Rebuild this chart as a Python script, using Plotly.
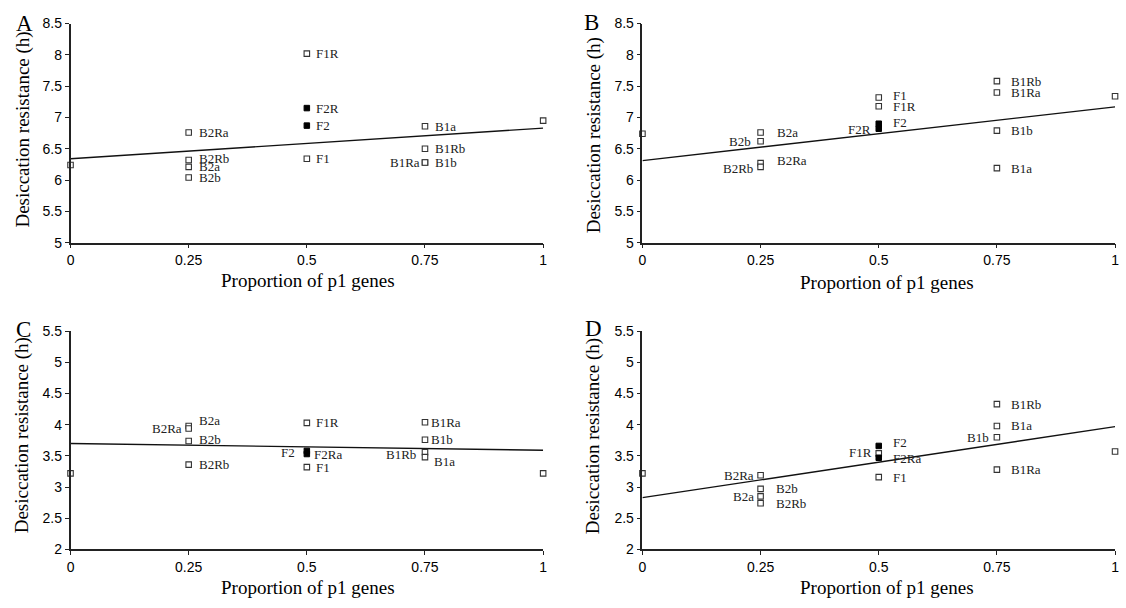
import plotly.graph_objects as go

# ---------------- data ----------------
prop = [0, 0.25, 0.25, 0.25, 0.25, 0.5, 0.5, 0.5, 0.5, 0.75, 0.75, 0.75, 0.75, 1]

lab_A = ["", "B2Ra", "B2Rb", "B2a", "B2b", "F1R", "F2R", "F2", "F1", "B1a", "B1Rb", "B1Ra", "B1b", ""]
res_A = [6.24, 6.76, 6.32, 6.21, 6.04, 8.02, 7.15, 6.87, 6.34, 6.86, 6.50, 6.28, 6.28, 6.95]
fit_A = [6.34, 0.49]   # intercept, slope

lab_B = ["", "B2a", "B2b", "B2Ra", "B2Rb", "F1", "F1R", "F2", "F2R", "B1Rb", "B1Ra", "B1b", "B1a", ""]
res_B = [6.74, 6.76, 6.62, 6.27, 6.21, 7.32, 7.18, 6.90, 6.82, 7.58, 7.40, 6.79, 6.19, 7.34]
fit_B = [6.31, 0.86]

lab_C = ["", "B2a", "B2Ra", "B2b", "B2Rb", "F1R", "F2", "F2Ra", "F1", "B1Ra", "B1b", "B1Rb", "B1a", ""]
res_C = [3.22, 3.98, 3.94, 3.74, 3.36, 4.03, 3.58, 3.53, 3.32, 4.04, 3.76, 3.56, 3.48, 3.22]
fit_C = [3.70, -0.11]

lab_D = ["", "B2Ra", "B2b", "B2a", "B2Rb", "F2", "F1R", "F2Ra", "F1", "B1Rb", "B1a", "B1b", "B1Ra", ""]
res_D = [3.22, 3.19, 2.97, 2.85, 2.74, 3.66, 3.54, 3.47, 3.16, 4.33, 3.98, 3.80, 3.28, 3.57]
fit_D = [2.83, 1.14]

panel_letters = ["A", "B", "C", "D"]
x_ticks = [0, 0.25, 0.5, 0.75, 1]
x_ticktext = ["0", "0.25", "0.5", "0.75", "1"]
y_range_top = [5, 8.5]
y_range_bottom = [2, 5.5]
x_title = "Proportion of p1 genes"
y_title = "Desiccation resistance (h)"

# ---------------- style / layout ----------------
W, H = 1126, 608
SERIF = "Liberation Serif, Times New Roman, serif"
SANS = "Liberation Sans, Arial, sans-serif"
AX = "#222"

# label placement: label -> (side, xshift px, yshift px)
label_style = {
    "A": {"B2Ra": ("r", 8, 0), "B2Rb": ("r", 8, 2), "B2a": ("r", 8, 0), "B2b": ("r", 8, 0),
          "F1R": ("r", 7, 0), "F2R": ("r", 7, 0), "F2": ("r", 7, 0), "F1": ("r", 7, 0),
          "B1a": ("r", 8, 0), "B1Rb": ("r", 8, 0), "B1Ra": ("l", -3, 0), "B1b": ("r", 8, 0)},
    "B": {"B2a": ("r", 14, 0), "B2b": ("l", -8, 0), "B2Ra": ("r", 14, 3), "B2Rb": ("l", -6, -2),
          "F1": ("r", 12, 2), "F1R": ("r", 12, 0), "F2": ("r", 12, 1), "F2R": ("l", -6, -1),
          "B1Rb": ("r", 12, 0), "B1Ra": ("r", 12, 0), "B1b": ("r", 12, 0), "B1a": ("r", 12, 0)},
    "C": {"B2a": ("r", 8, 5), "B2Ra": ("l", -5, 0), "B2b": ("r", 8, 1), "B2Rb": ("r", 8, 0),
          "F1R": ("r", 7, 0), "F2": ("l", -10, -2), "F2Ra": ("r", 5, 0), "F1": ("r", 7, 0),
          "B1Ra": ("r", 4, 0), "B1b": ("r", 4, 0), "B1Rb": ("l", -7, -2), "B1a": ("r", 7, -4)},
    "D": {"B2Ra": ("l", -5, 0), "B2b": ("r", 13, 0), "B2a": ("l", -5, 0), "B2Rb": ("r", 13, 0),
          "F2": ("r", 12, 3), "F1R": ("l", -5, 1), "F2Ra": ("r", 12, -1), "F1": ("r", 12, 0),
          "B1Rb": ("r", 12, 0), "B1a": ("r", 12, 0), "B1b": ("l", -6, 0), "B1Ra": ("r", 12, 0)},
}

# domains from pixel geometry
def px_x(a, b):
    return [a / W, b / W]

def px_y(top, bottom):
    return [1 - bottom / H, 1 - top / H]

panels = [
    dict(key="A", labels=lab_A, res=res_A, fit=fit_A, xd=px_x(67, 543), yd=px_y(16, 241),
         yr=y_range_top, letter=(21, 16), ytitle=(19, 125), xtitle=(306, 280)),
    dict(key="B", labels=lab_B, res=res_B, fit=fit_B, xd=px_x(643, 1119), yd=px_y(16, 241),
         yr=y_range_top, letter=(592, 15), ytitle=(594, 131), xtitle=(889, 282)),
    dict(key="C", labels=lab_C, res=res_C, fit=fit_C, xd=px_x(67, 543), yd=px_y(332, 556),
         yr=y_range_bottom, letter=(20, 330), ytitle=(19, 439), xtitle=(306, 595)),
    dict(key="D", labels=lab_D, res=res_D, fit=fit_D, xd=px_x(643, 1119), yd=px_y(332, 556),
         yr=y_range_bottom, letter=(594, 329), ytitle=(594, 440), xtitle=(889, 595)),
]

fig = go.Figure()
annotations = []

for i, p in enumerate(panels):
    n = "" if i == 0 else str(i + 1)
    xa, ya = "x" + n, "y" + n
    # regression line
    fx = [0, 1]
    fy = [p["fit"][0] + p["fit"][1] * v for v in fx]
    fig.add_trace(go.Scatter(x=fx, y=fy, xaxis=xa, yaxis=ya, mode="lines",
                             line=dict(color="#111", width=1.4), showlegend=False,
                             hoverinfo="skip"))
    # points: F2 generation filled, others open
    open_x, open_y, fill_x, fill_y = [], [], [], []
    for xv, yv, lb in zip(prop, p["res"], p["labels"]):
        if lb.startswith("F2"):
            fill_x.append(xv); fill_y.append(yv)
        else:
            open_x.append(xv); open_y.append(yv)
    fig.add_trace(go.Scatter(x=open_x, y=open_y, xaxis=xa, yaxis=ya, mode="markers",
                             marker=dict(symbol="square", size=5.5, color="white",
                                         line=dict(color="#333", width=1.1)),
                             cliponaxis=False, showlegend=False))
    fig.add_trace(go.Scatter(x=fill_x, y=fill_y, xaxis=xa, yaxis=ya, mode="markers",
                             marker=dict(symbol="square", size=5.5, color="black",
                                         line=dict(color="black", width=1)),
                             cliponaxis=False, showlegend=False))
    # point labels
    st = label_style[p["key"]]
    for xv, yv, lb in zip(prop, p["res"], p["labels"]):
        if not lb:
            continue
        side, dx, dy = st[lb]
        annotations.append(dict(x=xv, y=yv, xref=xa, yref=ya, text=lb, showarrow=False,
                                xanchor="left" if side == "r" else "right", yanchor="middle",
                                xshift=dx, yshift=dy,
                                font=dict(family=SERIF, size=13, color="#222")))
    # axes
    fig.layout["xaxis" + n] = dict(domain=p["xd"], range=[0, 1], anchor=ya,
                                   tickvals=x_ticks, ticktext=x_ticktext,
                                   showline=True, linecolor=AX, linewidth=1.5,
                                   ticks="outside", ticklen=4, tickcolor=AX, tickwidth=1,
                                   showgrid=False, zeroline=False,
                                   tickfont=dict(family=SANS, size=14, color="black"))
    fig.layout["yaxis" + n] = dict(domain=p["yd"], range=p["yr"], anchor=xa, dtick=0.5,
                                   showline=True, linecolor=AX, linewidth=1.5,
                                   ticks="outside", ticklen=4, tickcolor=AX, tickwidth=1,
                                   showgrid=False, zeroline=False,
                                   tickfont=dict(family=SANS, size=14, color="black"))
    # panel letter
    lx, ly = p["letter"]
    annotations.append(dict(x=lx / W, y=1 - ly / H, xref="paper", yref="paper",
                            text=panel_letters[i], showarrow=False,
                            xanchor="center", yanchor="middle",
                            font=dict(family=SERIF, size=23, color="black")))
    # axis titles
    tx, ty = p["ytitle"]
    annotations.append(dict(x=tx / W, y=1 - ty / H, xref="paper", yref="paper",
                            text=y_title, textangle=-90, showarrow=False,
                            xanchor="center", yanchor="middle",
                            font=dict(family=SERIF, size=19, color="black")))
    tx, ty = p["xtitle"]
    annotations.append(dict(x=tx / W, y=1 - ty / H, xref="paper", yref="paper",
                            text=x_title, showarrow=False,
                            xanchor="center", yanchor="middle",
                            font=dict(family=SERIF, size=19, color="black")))

fig.update_layout(width=W, height=H, margin=dict(l=0, r=0, t=0, b=0),
                  paper_bgcolor="white", plot_bgcolor="white",
                  annotations=annotations, showlegend=False)

fig.write_html("out.html", config={"displayModeBar": False})
